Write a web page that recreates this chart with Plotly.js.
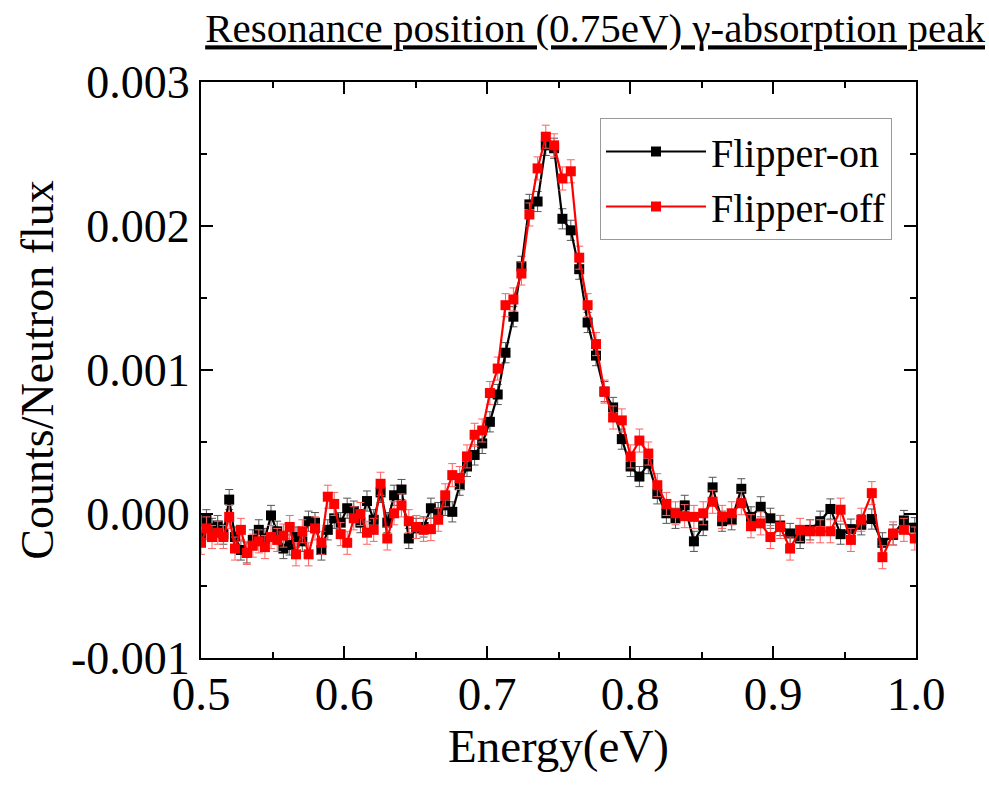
<!DOCTYPE html>
<html>
<head>
<meta charset="utf-8">
<script src="https://cdn.plot.ly/plotly-3.0.1.min.js"></script>
<style>html,body{margin:0;padding:0;background:#fff;}</style>
</head>
<body>
<div id="chart" style="width:989px;height:785px;"></div>
<script>
// Energy grid (eV)
const energy = [
0.5000,0.50378,0.50769,0.51168,0.51566,0.51972,0.52378,0.52790,0.53203,0.53622,
0.54042,0.54469,0.54895,0.55329,0.55762,0.56203,0.56643,0.57084,0.57524,0.57972,
0.58420,0.58867,0.59315,0.59769,0.60224,0.60685,0.61147,0.61608,0.62077,0.62559,
0.63028,0.63503,0.64021,0.64531,0.65049,0.65566,0.66077,0.66587,0.67077,0.67573,
0.68091,0.68601,0.69133,0.69664,0.70203,0.70748,0.71294,0.71846,0.72406,0.72965,
0.73538,0.74112,0.74692,0.75273,0.75860,0.76448,0.77035,0.77622,0.78217,0.78818,
0.79427,0.80042,0.80657,0.81280,0.81909,0.82545,0.83182,0.83825,0.84469,0.85119,
0.85776,0.86441,0.87112,0.87783,0.88462,0.89140,0.89818,0.90503,0.91196,0.91895,
0.92594,0.93301,0.94014,0.94727,0.95448,0.96175,0.96909,0.97650,0.98399,0.99154,
0.99916];

// Counts / neutron flux, Flipper-on (black)
const flipperOn = [
-1.5e-4,-0.4e-4,-1.0e-4,-0.8e-4,-1.4e-4,1.0e-4,-1.6e-4,-2.5e-4,-2.7e-4,-1.8e-4,
-1.1e-4,-1.7e-4,-0.1e-4,-1.2e-4,-2.4e-4,-2.15e-4,-1.6e-4,-1.9e-4,-0.5e-4,-0.6e-4,
-2.5e-4,-1.1e-4,-0.3e-4,-0.6e-4,0.4e-4,0.2e-4,-0.6e-4,0.9e-4,-0.4e-4,1.5e-4,
-0.6e-4,1.3e-4,1.7e-4,-1.7e-4,-1.0e-4,-0.9e-4,0.4e-4,0.1e-4,0.6e-4,0.15e-4,
2.0e-4,3.3e-4,4.1e-4,4.9e-4,6.4e-4,8.3e-4,11.2e-4,13.7e-4,17.2e-4,21.5e-4,
21.7e-4,25.6e-4,25.4e-4,20.5e-4,19.7e-4,17.0e-4,13.3e-4,11.0e-4,8.5e-4,7.4e-4,
5.2e-4,3.3e-4,2.6e-4,3.5e-4,1.4e-4,0.05e-4,-0.3e-4,0.6e-4,-1.9e-4,-0.8e-4,
1.85e-4,-0.5e-4,-0.4e-4,1.75e-4,-0.2e-4,0.5e-4,-0.3e-4,-0.8e-4,-1.35e-4,-1.7e-4,
-1.1e-4,-0.5e-4,0.35e-4,-1.4e-4,-1.05e-4,-0.75e-4,-0.35e-4,-2.0e-4,-1.45e-4,-0.45e-4,
-0.95e-4];

// Counts / neutron flux, Flipper-off (red)
const flipperOff = [
-2.0e-4,-1.0e-4,-1.6e-4,-1.3e-4,-1.6e-4,-0.2e-4,-2.4e-4,-1.1e-4,-2.7e-4,-2.2e-4,
-1.9e-4,-2.3e-4,-1.6e-4,-1.8e-4,-1.5e-4,-0.9e-4,-2.8e-4,-1.2e-4,-2.8e-4,-1.0e-4,
-2.0e-4,1.2e-4,0.7e-4,-1.4e-4,-2.0e-4,-0.3e-4,0.0,-1.3e-4,-1.1e-4,2.1e-4,
-1.7e-4,0.05e-4,0.6e-4,-0.5e-4,-0.9e-4,-1.1e-4,-1.05e-4,-0.4e-4,1.3e-4,2.7e-4,
2.5e-4,4.0e-4,5.5e-4,5.8e-4,8.4e-4,10.1e-4,14.5e-4,14.9e-4,16.7e-4,20.8e-4,
24.0e-4,26.2e-4,25.6e-4,23.3e-4,23.8e-4,17.8e-4,14.5e-4,11.8e-4,8.5e-4,6.7e-4,
6.5e-4,4.0e-4,5.1e-4,4.2e-4,2.0e-4,0.7e-4,0.05e-4,-0.15e-4,-0.2e-4,0.05e-4,
0.85e-4,-0.2e-4,0.05e-4,0.75e-4,-0.85e-4,-0.65e-4,-1.6e-4,-0.9e-4,-2.4e-4,-1.1e-4,
-1.2e-4,-1.2e-4,-1.2e-4,0.3e-4,-1.8e-4,-0.4e-4,1.45e-4,-3.0e-4,-1.35e-4,-1.1e-4,
-1.7e-4];

// Uncertainties (constant, read from the error-bar caps)
const errOn = 0.7e-4;
const errOff = 0.8e-4;

const yTickVals = [-0.001, 0, 0.001, 0.002, 0.003];
const yTickText = ['-0.001', '0.000', '0.001', '0.002', '0.003'];
const xTickVals = [0.5, 0.6, 0.7, 0.8, 0.9, 1.0];
const xTickText = ['0.5', '0.6', '0.7', '0.8', '0.9', '1.0'];

const FONT = '"Liberation Serif", "Times New Roman", Times, serif';

const traces = [
  {
    x: energy, y: flipperOn, name: 'Flipper-on', type: 'scatter', mode: 'lines+markers',
    line: {color: '#000000', width: 2.2},
    marker: {symbol: 'square', size: 10, color: '#000000'},
    error_y: {type: 'constant', value: errOn, color: '#555555', thickness: 1, width: 4}
  },
  {
    x: energy, y: flipperOff, name: 'Flipper-off', type: 'scatter', mode: 'lines+markers',
    line: {color: '#ff0000', width: 2.2},
    marker: {symbol: 'square', size: 10, color: '#ff0000'},
    error_y: {type: 'constant', value: errOff, color: '#ff6060', thickness: 1, width: 4}
  }
];

const axisCommon = {
  showgrid: false, zeroline: false,
  showline: true, linecolor: '#000', linewidth: 2, mirror: 'allticks',
  ticks: 'inside', ticklen: 12, tickwidth: 2, tickcolor: '#000'
};

const layout = {
  width: 989, height: 785,
  margin: {l: 201, r: 73, t: 82, b: 127},
  paper_bgcolor: '#fff', plot_bgcolor: '#fff',
  font: {family: FONT, color: '#000'},
  showlegend: true,
  title: {
    text: '<u>Resonance position (0.75eV) γ-absorption peak</u>',
    font: {family: FONT, size: 41, color: '#000'},
    xref: 'container', yref: 'container',
    x: 985/989, xanchor: 'right', y: 1 - 28/785, yanchor: 'middle'
  },
  xaxis: Object.assign({}, axisCommon, {
    range: [0.5, 1.0], tickvals: xTickVals, ticktext: xTickText,
    tickfont: {family: FONT, size: 47, color: '#000'},
    ticklabelstandoff: -6,
    minor: {dtick: 0.05, tick0: 0.5, ticks: 'inside', ticklen: 6, tickwidth: 2, tickcolor: '#000'},
    title: {text: 'Energy(eV)', font: {family: FONT, size: 47, color: '#000'}, standoff: 8}
  }),
  yaxis: Object.assign({}, axisCommon, {
    range: [-0.001, 0.003], tickvals: yTickVals, ticktext: yTickText,
    tickfont: {family: FONT, size: 46, color: '#000'},
    minor: {dtick: 0.0005, tick0: 0, ticks: 'inside', ticklen: 6, tickwidth: 2, tickcolor: '#000'},
    title: {text: 'Counts/Neutron flux', font: {family: FONT, size: 46, color: '#000'}, standoff: 3}
  }),
  legend: {
    x: (600-201)/715, y: (658-118)/576, xanchor: 'left', yanchor: 'top',
    bgcolor: '#fff', bordercolor: '#999', borderwidth: 1,
    font: {family: FONT, size: 40, color: '#000'},
    itemwidth: 100, tracegroupgap: 0
  }
};

Plotly.newPlot('chart', traces, layout, {displayModeBar: false, staticPlot: true});
</script>
</body>
</html>
